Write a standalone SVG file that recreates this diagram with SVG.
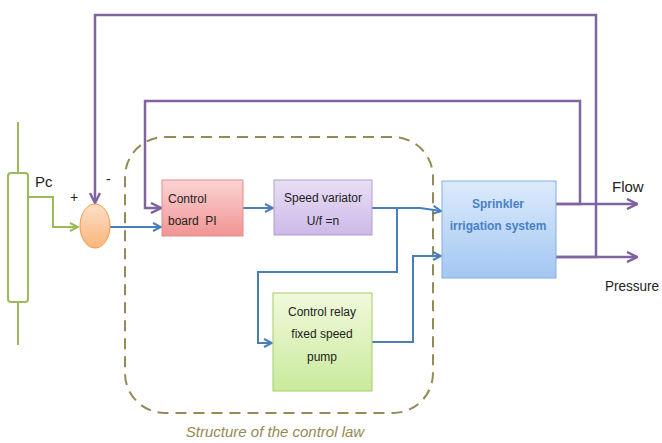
<svg xmlns="http://www.w3.org/2000/svg" width="662" height="443" viewBox="0 0 662 443">
<style>
text{font-family:"Liberation Sans",Arial,sans-serif;fill:#222;}
.lbl{font-size:12px;}
.big{font-size:15px;}
.blue{fill:none;stroke:#4A7EBB;stroke-width:2;}
.purp{fill:none;stroke:#8064A2;stroke-width:2.5;}
.grn{fill:none;stroke:#9BBB59;stroke-width:2;}
</style>
<defs>
<marker id="ab" viewBox="0 0 10 10" refX="9" refY="5" markerWidth="5" markerHeight="5" orient="auto" markerUnits="strokeWidth"><path d="M1,1 L9,5 L1,9" fill="none" stroke="#4A7EBB" stroke-width="2"/></marker>
<marker id="ap" viewBox="0 0 10 10" refX="9" refY="5" markerWidth="5" markerHeight="5" orient="auto" markerUnits="strokeWidth"><path d="M1,1 L9,5 L1,9" fill="none" stroke="#8064A2" stroke-width="2"/></marker>
<marker id="ag" viewBox="0 0 10 10" refX="9" refY="5" markerWidth="5" markerHeight="5" orient="auto" markerUnits="strokeWidth"><path d="M1,1 L9,5 L1,9" fill="none" stroke="#9BBB59" stroke-width="2"/></marker>
<linearGradient id="gPink" x1="0" y1="0" x2="0" y2="1"><stop offset="0" stop-color="#FBD3D3"/><stop offset="1" stop-color="#F29494"/></linearGradient>
<linearGradient id="gPurp" x1="0" y1="0" x2="0" y2="1"><stop offset="0" stop-color="#E9DFF5"/><stop offset="1" stop-color="#CDB9E8"/></linearGradient>
<linearGradient id="gGrn" x1="0" y1="0" x2="0" y2="1"><stop offset="0" stop-color="#F1F9DC"/><stop offset="1" stop-color="#C9EA9C"/></linearGradient>
<linearGradient id="gBlue" x1="0" y1="0" x2="0" y2="1"><stop offset="0" stop-color="#DCEBFC"/><stop offset="1" stop-color="#A3C7F2"/></linearGradient>
<linearGradient id="gOr" x1="0" y1="0" x2="0" y2="1"><stop offset="0" stop-color="#FDE0C8"/><stop offset="1" stop-color="#F9B47A"/></linearGradient>
</defs>

<g id="boundary">
<rect x="125" y="137" width="308" height="276" rx="40" ry="40" fill="none" stroke="#948A54" stroke-width="2" stroke-dasharray="11,7"/>
<text x="275" y="437" text-anchor="middle" style="font-size:15px;font-style:italic;fill:#948A54">Structure of the control law</text>
</g>

<g id="connectors">
<line x1="18" y1="122" x2="18" y2="173" class="grn"/>
<line x1="18" y1="302" x2="18" y2="345" class="grn"/>
<polyline points="28,197 53,197 53,227 78,227" class="grn" marker-end="url(#ag)"/>
<polyline points="556,257 596,257 596,15 95,15 95,203" class="purp" marker-end="url(#ap)"/>
<polyline points="556,204 580,204 580,101 145,101 145,208 161,208" class="purp" marker-end="url(#ap)"/>
<line x1="556" y1="204" x2="637" y2="204" class="purp" marker-end="url(#ap)"/>
<line x1="556" y1="257" x2="637" y2="257" class="purp" marker-end="url(#ap)"/>
<line x1="110" y1="227" x2="161" y2="227" class="blue" marker-end="url(#ab)"/>
<line x1="243" y1="208" x2="273" y2="208" class="blue" marker-end="url(#ab)"/>
<polyline points="372,208 420,208 441,211" class="blue" marker-end="url(#ab)"/>
<polyline points="397,208 397,272 258,272 258,343 272,343" class="blue" marker-end="url(#ab)"/>
<polyline points="372,342 413,342 413,256 441,256" class="blue" marker-end="url(#ab)"/>
</g>

<g id="bar">
<rect x="8" y="173" width="20" height="129" rx="3" fill="#fff" stroke="#9BBB59" stroke-width="2"/>
<text x="35" y="187" class="big">Pc</text>
</g>

<g id="sum">
<ellipse cx="95" cy="226" rx="15" ry="22" fill="url(#gOr)" stroke="#F79646" stroke-width="1"/>
<text x="70" y="202" style="font-size:14px">+</text>
<text x="106" y="184" style="font-size:14px">-</text>
</g>

<g id="control-board">
<rect x="162" y="180" width="81" height="56" fill="url(#gPink)" stroke="#E38B8B" stroke-width="1"/>
<text x="168" y="203" class="lbl">Control</text>
<text x="168" y="225" class="lbl" xml:space="preserve">board  PI</text>
</g>

<g id="speed-variator">
<rect x="274" y="180" width="98" height="55" fill="url(#gPurp)" stroke="#B09FCF" stroke-width="1"/>
<text x="323" y="202" class="lbl" text-anchor="middle">Speed variator</text>
<text x="323" y="225" class="lbl" text-anchor="middle">U/f =n</text>
</g>

<g id="control-relay">
<rect x="273" y="293" width="99" height="98" fill="url(#gGrn)" stroke="#A8CC6C" stroke-width="1"/>
<text x="322" y="316" class="lbl" text-anchor="middle">Control relay</text>
<text x="322" y="338" class="lbl" text-anchor="middle">fixed speed</text>
<text x="322" y="361" class="lbl" text-anchor="middle">pump</text>
</g>

<g id="sprinkler">
<rect x="442" y="181" width="114" height="97" fill="url(#gBlue)" stroke="#84AEE0" stroke-width="1"/>
<text x="498" y="208" class="lbl" text-anchor="middle" style="font-weight:bold;fill:#4A7FC8">Sprinkler</text>
<text x="498" y="230" class="lbl" text-anchor="middle" style="font-weight:bold;fill:#4A7FC8">irrigation system</text>
</g>

<g id="outputs">
<text x="612" y="192" class="big">Flow</text>
<text x="605" y="291" style="font-size:14px" textLength="54" lengthAdjust="spacingAndGlyphs">Pressure</text>
</g>
</svg>
